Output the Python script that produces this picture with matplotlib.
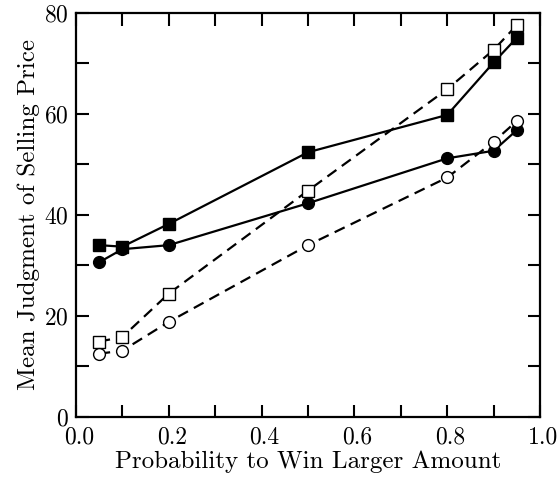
import matplotlib.pyplot as plt
import matplotlib.transforms as mtransforms
from matplotlib.ticker import MultipleLocator

plt.rcParams['font.family'] = 'cmr10'
plt.rcParams['axes.formatter.use_mathtext'] = True

# probability of winning the larger amount
prob = [0.05, 0.1, 0.2, 0.5, 0.8, 0.9, 0.95]

# mean judged selling price, four conditions
filled_sq = [34.0, 33.7, 38.2, 52.4, 59.8, 70.2, 75.1]
filled_circ = [30.6, 33.2, 34.0, 42.3, 51.2, 52.7, 56.8]
open_sq = [14.9, 15.8, 24.4, 44.8, 64.9, 72.7, 77.6]
open_circ = [12.5, 13.1, 18.8, 34.0, 47.4, 54.5, 58.6]

fig = plt.figure(figsize=(5.58, 4.78), dpi=100)
ax = fig.add_axes([0.136, 0.128, 0.832, 0.845])

ax.plot(prob, filled_sq, color='k', lw=1.6, marker='s', ms=8.5, mfc='k')
ax.plot(prob, filled_circ, color='k', lw=1.6, marker='o', ms=8.5, mfc='k')
ax.plot(prob, open_sq, color='k', lw=1.6, ls=(0, (5, 3)), marker='s', ms=8.5, mfc='white')
ax.plot(prob, open_circ, color='k', lw=1.6, ls=(0, (5, 3)), marker='o', ms=8.5, mfc='white')

ax.set_xlim(0, 1.0)
ax.set_ylim(0, 80)
ax.xaxis.set_major_locator(MultipleLocator(0.2))
ax.xaxis.set_minor_locator(MultipleLocator(0.1))
ax.yaxis.set_major_locator(MultipleLocator(20))
ax.yaxis.set_minor_locator(MultipleLocator(10))
ax.xaxis.set_major_formatter(plt.FormatStrFormatter('%.1f'))
ax.tick_params(which='both', direction='in', top=True, right=True,
               length=9, width=1.5, labelsize=17)
ax.tick_params(axis='x', pad=7)
ax.tick_params(axis='y', pad=5)
for s in ax.spines.values():
    s.set_linewidth(1.6)

# x tick labels sit a little right of their ticks in the original
shift = mtransforms.ScaledTranslation(3 / 100, 0, fig.dpi_scale_trans)
for lab in ax.get_xticklabels():
    lab.set_transform(lab.get_transform() + shift)

ax.set_xlabel('Probability to Win Larger Amount', fontsize=18, labelpad=1)
ax.set_ylabel('Mean Judgment of Selling Price', fontsize=18, labelpad=3)

plt.savefig('out.png', dpi=100)
